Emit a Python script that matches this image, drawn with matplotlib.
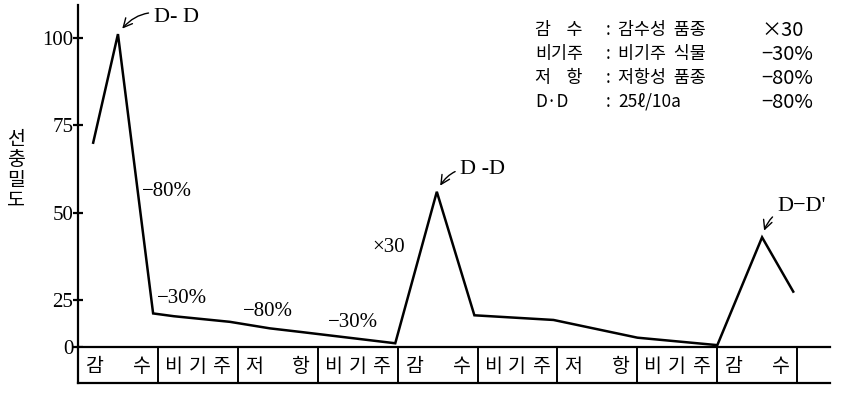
import numpy as np
import matplotlib
matplotlib.use("Agg")
import matplotlib.pyplot as plt

# data
period = [0.19, 0.5, 0.94, 1.2, 1.9, 2.4, 2.8, 3.97, 4.49, 4.96, 5.95, 7.0, 8.0, 8.56, 8.95]
density = [70, 101, 18, 16.5, 13.5, 10, 8, 2, 56, 17, 14.5, 5, 1, 43, 27.5]
y_ticks = [0, 25, 50, 75, 100]
cell_labels = ["감 수", "비기주", "저 항", "비기주", "감 수", "비기주", "저 항", "비기주", "감 수"]
legend_keys = ["감    수", "비기주", "저    항", "D·D"]
legend_desc = ["감수성  품종", "비기주  식물", "저항성  품종", "25ℓ/10a"]
legend_vals = ["×30", "−30%", "−80%", "−80%"]

W, H = 843, 393
SERIF = "Liberation Serif"
KR = ["Noto Sans CJK KR", "DejaVu Sans"]

# scale below 25 is squeezed in the original drawing
K = 47 / 88.3


def fwd(v):
    v = np.asarray(v, dtype=float)
    return np.where(v >= 25, v, 25 - (25 - v) * K)


def inv(u):
    u = np.asarray(u, dtype=float)
    return np.where(u >= 25, u, 25 - (25 - u) / K)


def rect(x0, y0, x1, y1):
    return [x0 / W, 1 - y1 / H, (x1 - x0) / W, (y1 - y0) / H]


fig = plt.figure(figsize=(W / 100, H / 100), dpi=100)

ax = fig.add_axes(rect(78, 5, 830, 347))
ax.set_yscale("function", functions=(fwd, inv))
ax.set_xlim(0, 9.41)
ax.set_ylim(0, 109.3)
for s in ["top", "right", "bottom"]:
    ax.spines[s].set_visible(False)
ax.spines["left"].set_linewidth(1.6)
ax.set_xticks([])
ax.set_yticks(y_ticks)
ax.yaxis.set_minor_locator(matplotlib.ticker.NullLocator())
ax.tick_params(axis="y", direction="inout", length=7, width=1.6, pad=0)
for lab in ax.get_yticklabels():
    lab.set_fontfamily(SERIF)
    lab.set_fontsize(15)

ax.plot(period, density, color="black", lw=1.8, solid_joinstyle="miter")

# D-D arrows at the three peaks
peaks = [1, 8, 13]
texts = ["D- D", "D -D", "D−D'"]
offs = [(26, 12), (17, 16), (11, 22)]
for i, t, o in zip(peaks, texts, offs):
    ax.annotate(t, xy=(period[i], density[i]), xytext=o, textcoords="offset points",
                ha="left", va="center", fontfamily=SERIF, fontsize=16,
                arrowprops=dict(arrowstyle="->", lw=1.0, color="black",
                                connectionstyle="arc3,rad=0.4", shrinkA=2, shrinkB=5))

notes = [(0.80, 56, "−80%"), (0.99, 25.6, "−30%"), (2.07, 19.2, "−80%"),
         (3.13, 13.2, "−30%"), (3.68, 40, "×30")]
for x, y, t in notes:
    ax.text(x, y, t, ha="left", va="center", fontfamily=SERIF, fontsize=15)

# row of crop boxes under the axis
bx = fig.add_axes(rect(78, 347, 830, 383))
bx.set_xlim(0, 9.41)
bx.set_ylim(0, 1)
bx.spines["right"].set_visible(False)
for s in ["top", "bottom", "left"]:
    bx.spines[s].set_linewidth(1.6)
bx.set_xticks([])
bx.set_yticks([])
bx.vlines(np.arange(1, 10), 0, 1, color="black", lw=1.4)
for i, lab in enumerate(cell_labels):
    chars = lab.replace(" ", "")
    xs = np.linspace(0.2, 0.79, len(chars))
    for c, dx in zip(chars, xs):
        bx.text(i + dx, 0.47, c, ha="center", va="center", family=KR, fontsize=14)

# y label written vertically
fig.text(16 / W, 1 - 170 / H, "선\n충\n밀\n도", ha="center", va="center",
         family=KR, fontsize=14, linespacing=0.95)

# legend block top right
rows_y = [30, 54, 78, 102]
for y, k, d, v in zip(rows_y, legend_keys, legend_desc, legend_vals):
    fy = 1 - y / H
    fig.text(535 / W, fy, k, ha="left", va="center", family=KR, fontsize=12.5, fontweight="light")
    fig.text(608 / W, fy, ":", ha="center", va="center", family=KR, fontsize=12.5, fontweight="light")
    fig.text(618 / W, fy, d, ha="left", va="center", family=KR, fontsize=12.5, fontweight="light")
    fig.text(761 / W, fy, v, ha="left", va="center", family=KR, fontsize=14.5, fontweight="light")

fig.savefig("out.png", dpi=100)
